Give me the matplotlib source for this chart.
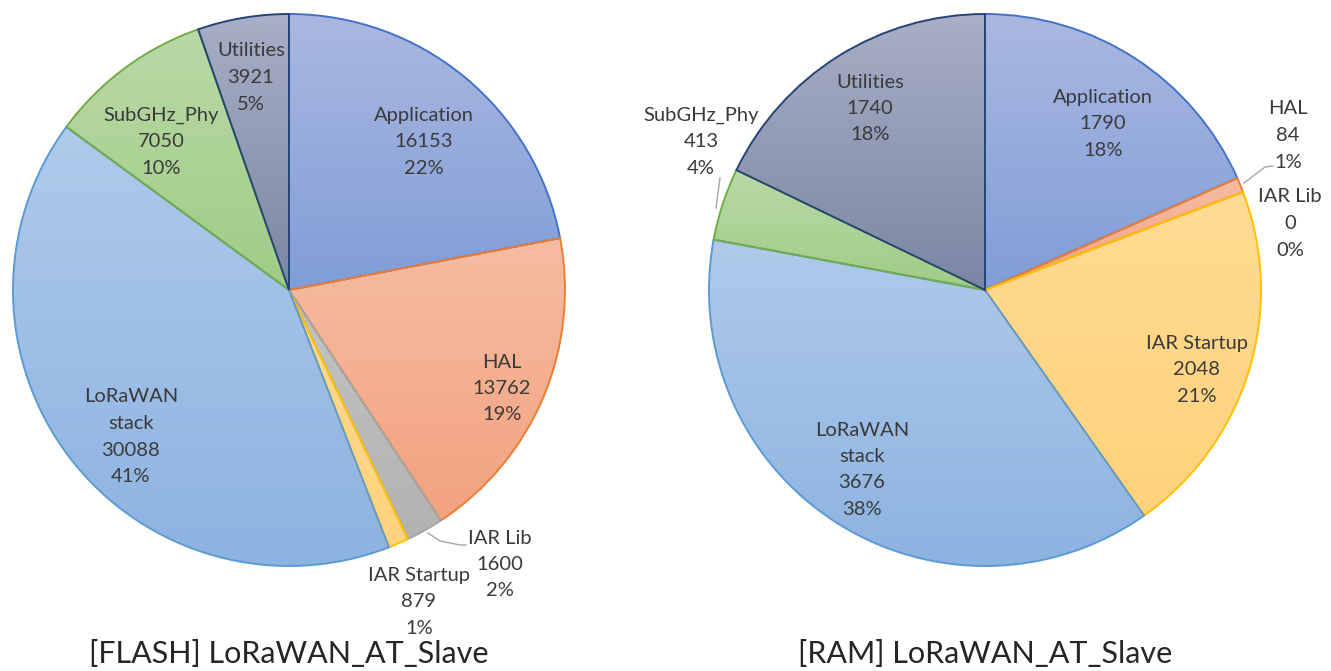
import numpy as np
import matplotlib
matplotlib.use("Agg")
import matplotlib.pyplot as plt
from matplotlib.colors import LinearSegmentedColormap

W, H = 1331, 671

categories = ["Application", "HAL", "IAR Lib", "IAR Startup", "LoRaWAN\nstack", "SubGHz_Phy", "Utilities"]
flash_values = [16153, 13762, 1600, 879, 30088, 7050, 3921]
ram_values = [1790, 84, 0, 2048, 3676, 413, 1740]
flash_title = "[FLASH] LoRaWAN_AT_Slave"
ram_title = "[RAM] LoRaWAN_AT_Slave"

fill_top = ["#AAB8E1", "#F6BCA2", "#C4C4C4", "#FFDB92", "#AFCAEA", "#B9D9A6", "#A8AFC6"]
fill_bottom = ["#809DD7", "#F2A27F", "#B2B2B2", "#FFD27C", "#8DB3E1", "#A0CC86", "#7A86A4"]
edge_colors = ["#4472C4", "#ED7D31", "#A5A5A5", "#FFC000", "#5B9BD5", "#70AD47", "#264478"]

FONT = ["Lato", "DejaVu Sans"]
LABEL_SIZE = 14.5
LINE_STEP = 26.5
TEXT_COLOR = "#3A3A3A"

fig = plt.figure(figsize=(W / 100, H / 100), dpi=100)
ax = fig.add_axes([0, 0, 1, 1])


def draw_pie(values, cx, cy_px, r):
    cy = H - cy_px
    wedges, _ = ax.pie(values, startangle=90, counterclock=False, radius=r,
                       center=(cx, cy), frame=True)
    for i, w in enumerate(wedges):
        w.set_facecolor("none")
        w.set_edgecolor(edge_colors[i])
        w.set_linewidth(1.4 if values[i] > 0 else 0)
        w.set_zorder(2)
        if values[i] <= 0:
            continue
        bb = w.get_path().get_extents()
        cmap = LinearSegmentedColormap.from_list("g%d" % i, [fill_top[i], fill_bottom[i]])
        grad = np.linspace(0, 1, 256).reshape(-1, 1)
        im = ax.imshow(grad, extent=(bb.x0, bb.x1, bb.y0, bb.y1), origin="upper",
                       cmap=cmap, aspect="auto", zorder=1, interpolation="bilinear")
        im.set_clip_path(w)
    return wedges


def label(text_lines, x, y_first):
    for k, t in enumerate(text_lines):
        ax.text(x, H - (y_first + k * LINE_STEP), t, ha="center", va="center",
                fontsize=LABEL_SIZE, color=TEXT_COLOR, family=FONT, zorder=5)


def lines_for(i, values):
    total = sum(values)
    pct = int(round(100 * values[i] / total))
    return categories[i].split("\n") + [str(values[i]), "%d%%" % pct]


draw_pie(flash_values, 289, 290, 276)
draw_pie(ram_values, 985, 290, 276)

# label positions (x, y of first line in px from top)
flash_pos = [(424, 115), (502, 362), (500, 538), (419, 575), (131, 397), (161, 115), (251, 51)]
ram_pos = [(1103, 97), (1288, 109), (1290, 197), (1197, 343), (862, 430), (701, 115), (870, 82)]

for i, (x, y) in enumerate(flash_pos):
    label(lines_for(i, flash_values), x, y)
for i, (x, y) in enumerate(ram_pos):
    label(lines_for(i, ram_values), x, y)

# leader lines
lead = "#A6A6A6"
ax.plot([428, 440, 460, 466], [H - 533, H - 541, H - 545, H - 545], color=lead, lw=1, zorder=4)
ax.plot([1244, 1265, 1273], [H - 183, H - 167, H - 166], color=lead, lw=1, zorder=4)
ax.plot([720, 716], [H - 178, H - 208], color=lead, lw=1, zorder=4)

ax.text(289, H - 663, flash_title, ha="center", va="baseline", fontsize=22,
        color="#262626", family=FONT)
ax.text(985, H - 663, ram_title, ha="center", va="baseline", fontsize=22,
        color="#262626", family=FONT)

ax.set_xlim(0, W)
ax.set_ylim(0, H)
ax.set_aspect("auto")
ax.axis("off")

fig.savefig("out.png", dpi=100)
